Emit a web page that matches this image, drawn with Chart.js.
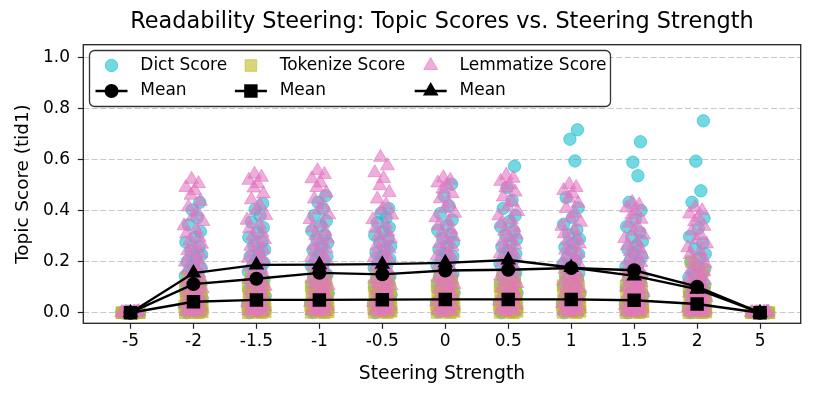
<!DOCTYPE html>
<html><head><meta charset="utf-8">
<script src="https://cdn.jsdelivr.net/npm/chart.js@4/dist/chart.umd.min.js"></script>
<style>html,body{margin:0;padding:0;background:#fff}#wrap{width:815px;height:398px}</style>
</head><body><div id="wrap"><canvas id="c" width="815" height="398"></canvas></div>
<script>
const categories = ['-5','-2','-1.5','-1','-0.5','0','0.5','1','1.5','2','5'];
const yTicks = [0, 0.2, 0.4, 0.6, 0.8, 1.0];

const dictScores = [
 [0.0,0.002,0.0,0.004,0.001,0.0,0.003,0.0,0.006,0.001,0.0,0.002],
 [0.0,0.003,0.008,0.014,0.02,0.027,0.034,0.041,0.048,0.056,0.064,0.072,0.08,0.088,0.097,0.106,0.115,0.124,0.134,0.144,0.154,0.165,0.176,0.188,0.2,0.213,0.227,0.242,0.258,0.276,0.296,0.318,0.344,0.372,0.402,0.432],
 [0.0,0.004,0.01,0.017,0.024,0.032,0.04,0.048,0.056,0.065,0.074,0.083,0.092,0.101,0.11,0.12,0.13,0.14,0.15,0.161,0.172,0.183,0.195,0.207,0.22,0.233,0.247,0.262,0.278,0.295,0.313,0.333,0.355,0.38,0.405,0.428],
 [0.001,0.006,0.013,0.021,0.029,0.038,0.047,0.056,0.066,0.076,0.086,0.096,0.106,0.116,0.127,0.138,0.149,0.16,0.171,0.183,0.195,0.207,0.219,0.232,0.245,0.259,0.273,0.288,0.304,0.321,0.339,0.359,0.381,0.405,0.432,0.458],
 [0.0,0.005,0.012,0.019,0.027,0.035,0.044,0.053,0.062,0.071,0.081,0.091,0.101,0.111,0.121,0.131,0.142,0.153,0.164,0.175,0.186,0.198,0.21,0.222,0.234,0.247,0.26,0.274,0.288,0.303,0.318,0.334,0.352,0.371,0.39,0.408],
 [0.002,0.007,0.014,0.022,0.031,0.04,0.049,0.058,0.068,0.078,0.088,0.098,0.108,0.118,0.129,0.14,0.151,0.162,0.173,0.185,0.197,0.209,0.221,0.234,0.247,0.261,0.275,0.29,0.306,0.323,0.342,0.363,0.388,0.418,0.458,0.503],
 [0.0,0.005,0.012,0.02,0.029,0.038,0.048,0.058,0.068,0.078,0.089,0.1,0.111,0.122,0.133,0.144,0.156,0.168,0.18,0.192,0.204,0.217,0.23,0.243,0.257,0.271,0.286,0.302,0.319,0.337,0.357,0.38,0.408,0.44,0.49,0.573],
 [0.0,0.005,0.011,0.019,0.027,0.036,0.045,0.055,0.065,0.075,0.086,0.097,0.108,0.119,0.13,0.142,0.154,0.166,0.178,0.19,0.203,0.216,0.229,0.243,0.257,0.272,0.288,0.305,0.324,0.346,0.372,0.41,0.45,0.594,0.679,0.716],
 [0.0,0.004,0.01,0.017,0.025,0.033,0.042,0.051,0.06,0.07,0.08,0.09,0.1,0.111,0.122,0.133,0.144,0.156,0.168,0.18,0.193,0.206,0.219,0.233,0.248,0.263,0.279,0.296,0.315,0.337,0.365,0.4,0.432,0.536,0.589,0.669],
 [0.0,0.003,0.007,0.012,0.018,0.024,0.03,0.037,0.044,0.051,0.058,0.066,0.074,0.082,0.09,0.099,0.108,0.117,0.127,0.137,0.148,0.159,0.171,0.184,0.198,0.213,0.23,0.25,0.272,0.298,0.33,0.37,0.432,0.477,0.593,0.751],
 [0.0,0.001,0.0,0.003,0.0,0.002,0.0,0.004,0.001,0.0,0.002,0.0]
];
const tokenizeScores = [
 [0.0,0.0,0.001,0.0,0.002,0.0,0.0,0.003,0.0,0.001,0.0,0.0],
 [0.0,0.0,0.001,0.003,0.005,0.008,0.011,0.014,0.017,0.02,0.023,0.026,0.029,0.033,0.037,0.041,0.045,0.049,0.053,0.058,0.063,0.068,0.074,0.08,0.086,0.093,0.101,0.11,0.121,0.136],
 [0.0,0.0,0.002,0.004,0.006,0.009,0.012,0.015,0.018,0.021,0.024,0.027,0.031,0.035,0.039,0.043,0.047,0.051,0.055,0.06,0.065,0.07,0.076,0.082,0.088,0.095,0.103,0.112,0.124,0.14],
 [0.0,0.001,0.002,0.004,0.007,0.01,0.013,0.016,0.019,0.022,0.025,0.028,0.032,0.036,0.04,0.044,0.048,0.052,0.056,0.061,0.066,0.071,0.077,0.083,0.089,0.096,0.104,0.113,0.125,0.142],
 [0.0,0.001,0.003,0.005,0.007,0.01,0.013,0.016,0.019,0.022,0.025,0.029,0.033,0.037,0.041,0.045,0.049,0.053,0.057,0.062,0.067,0.072,0.078,0.084,0.09,0.097,0.105,0.114,0.127,0.145],
 [0.0,0.001,0.003,0.005,0.008,0.011,0.014,0.017,0.02,0.023,0.026,0.029,0.033,0.037,0.041,0.045,0.049,0.053,0.058,0.063,0.068,0.073,0.079,0.085,0.091,0.098,0.106,0.115,0.128,0.147],
 [0.0,0.001,0.002,0.005,0.007,0.01,0.013,0.016,0.019,0.022,0.026,0.029,0.033,0.037,0.041,0.045,0.049,0.053,0.058,0.063,0.068,0.073,0.079,0.085,0.091,0.098,0.106,0.115,0.128,0.146],
 [0.0,0.001,0.003,0.005,0.008,0.011,0.014,0.017,0.02,0.023,0.026,0.029,0.033,0.037,0.041,0.045,0.049,0.053,0.057,0.062,0.067,0.072,0.078,0.084,0.091,0.098,0.106,0.116,0.13,0.15],
 [0.0,0.0,0.002,0.004,0.006,0.009,0.012,0.015,0.018,0.021,0.024,0.027,0.031,0.034,0.038,0.042,0.046,0.05,0.054,0.059,0.064,0.069,0.075,0.081,0.088,0.096,0.105,0.116,0.128,0.142],
 [0.0,0.0,0.001,0.002,0.004,0.006,0.008,0.01,0.012,0.014,0.016,0.019,0.022,0.025,0.028,0.031,0.034,0.037,0.041,0.045,0.049,0.054,0.06,0.067,0.075,0.085,0.1,0.125,0.165,0.2],
 [0.0,0.0,0.002,0.0,0.001,0.0,0.0,0.002,0.0,0.001,0.0,0.0]
];
const lemmatizeScores = [
 [0.0,0.001,0.0,0.002,0.0,0.004,0.001,0.0,0.002,0.0,0.003,0.0],
 [0.0,0.002,0.006,0.011,0.016,0.022,0.028,0.034,0.041,0.048,0.055,0.062,0.07,0.078,0.086,0.094,0.102,0.111,0.12,0.129,0.138,0.147,0.157,0.167,0.177,0.187,0.198,0.209,0.22,0.231,0.243,0.255,0.268,0.281,0.295,0.309,0.324,0.34,0.357,0.375,0.394,0.414,0.436,0.46,0.478,0.49,0.505,0.522],
 [0.0,0.003,0.007,0.012,0.018,0.024,0.031,0.038,0.045,0.053,0.061,0.069,0.077,0.085,0.094,0.103,0.112,0.121,0.13,0.14,0.15,0.16,0.17,0.18,0.191,0.202,0.213,0.224,0.236,0.248,0.26,0.273,0.286,0.3,0.314,0.329,0.345,0.362,0.38,0.399,0.42,0.442,0.465,0.488,0.505,0.518,0.53,0.542],
 [0.001,0.004,0.009,0.014,0.02,0.026,0.033,0.04,0.047,0.055,0.063,0.071,0.079,0.088,0.097,0.106,0.115,0.124,0.133,0.143,0.153,0.163,0.173,0.183,0.194,0.205,0.216,0.227,0.239,0.251,0.263,0.276,0.289,0.303,0.317,0.332,0.348,0.365,0.383,0.402,0.423,0.445,0.468,0.49,0.508,0.524,0.541,0.556],
 [0.0,0.003,0.008,0.013,0.019,0.025,0.032,0.039,0.046,0.054,0.062,0.07,0.078,0.087,0.096,0.105,0.114,0.123,0.132,0.142,0.152,0.162,0.172,0.182,0.193,0.204,0.215,0.226,0.238,0.25,0.262,0.275,0.288,0.302,0.316,0.331,0.347,0.364,0.382,0.401,0.422,0.445,0.47,0.497,0.525,0.548,0.575,0.608],
 [0.0,0.004,0.009,0.015,0.021,0.028,0.035,0.042,0.05,0.058,0.066,0.074,0.083,0.092,0.101,0.11,0.119,0.128,0.138,0.148,0.158,0.168,0.178,0.189,0.2,0.211,0.222,0.234,0.246,0.258,0.271,0.284,0.297,0.311,0.325,0.34,0.356,0.372,0.389,0.407,0.426,0.446,0.466,0.484,0.497,0.508,0.518,0.528],
 [0.002,0.006,0.011,0.017,0.023,0.03,0.037,0.045,0.053,0.061,0.069,0.078,0.087,0.096,0.105,0.114,0.124,0.134,0.144,0.154,0.164,0.174,0.185,0.196,0.207,0.218,0.23,0.242,0.254,0.266,0.279,0.292,0.305,0.319,0.333,0.348,0.363,0.379,0.396,0.414,0.433,0.453,0.472,0.488,0.501,0.514,0.526,0.538],
 [0.0,0.003,0.007,0.012,0.017,0.023,0.029,0.035,0.042,0.049,0.056,0.064,0.072,0.08,0.088,0.096,0.105,0.114,0.123,0.132,0.141,0.15,0.16,0.17,0.18,0.19,0.2,0.211,0.222,0.233,0.245,0.257,0.269,0.282,0.295,0.309,0.323,0.338,0.354,0.371,0.389,0.408,0.428,0.448,0.465,0.478,0.49,0.502],
 [0.0,0.002,0.005,0.009,0.013,0.018,0.023,0.028,0.034,0.04,0.046,0.052,0.058,0.065,0.072,0.079,0.086,0.093,0.1,0.108,0.116,0.124,0.132,0.14,0.149,0.158,0.167,0.176,0.186,0.196,0.206,0.217,0.228,0.239,0.251,0.263,0.276,0.29,0.304,0.319,0.334,0.35,0.366,0.382,0.397,0.41,0.421,0.432],
 [0.0,0.001,0.003,0.006,0.009,0.012,0.016,0.02,0.024,0.028,0.033,0.038,0.043,0.048,0.053,0.059,0.065,0.071,0.077,0.083,0.09,0.097,0.104,0.111,0.119,0.127,0.135,0.143,0.152,0.161,0.171,0.181,0.192,0.203,0.215,0.227,0.24,0.254,0.269,0.285,0.302,0.32,0.338,0.356,0.372,0.386,0.399,0.412],
 [0.0,0.002,0.0,0.001,0.0,0.003,0.0,0.0,0.002,0.0,0.001,0.0]
];
const jitterDict = [-0.11,0.06,0.13,-0.03,0.09,-0.14,0.01,0.11,-0.07,0.14,-0.05,0.08,-0.12,0.03,0.1,-0.09,0.12,-0.01,0.05,-0.13,0.07,-0.06,0.12,0.0,-0.1,0.04,0.13,-0.04,0.09,-0.12,0.02,0.11,-0.08,0.06,-0.02,0.1];
const jitterTokenize = [0.08,-0.13,0.03,0.14,-0.06,0.1,-0.1,0.01,0.14,-0.04,0.07,-0.14,0.12,-0.08,0.05,-0.11,0.09,-0.02,0.13,-0.08,0.02,0.11,-0.12,0.05,-0.05,0.12,-0.13,0.04,0.1,-0.09];
const jitterLemmatize = [-0.04,0.1,-0.12,0.05,-0.08,0.13,0.0,-0.14,0.07,-0.06,0.12,-0.02,0.09,-0.1,0.04,0.14,-0.07,0.07,-0.12,0.02,0.1,-0.05,0.08,-0.1,0.03,0.12,-0.13,0.06,-0.03,0.11,-0.09,0.01,0.13,-0.06,0.09,-0.11,0.05,-0.15,0.15,-0.01,0.06,-0.08,0.11,-0.04,0.02,-0.12,0.08,-0.03];

const dictMean = [0.0,0.112,0.133,0.156,0.150,0.165,0.168,0.175,0.166,0.102,0.0];
const tokenizeMean = [0.0,0.043,0.050,0.050,0.051,0.052,0.052,0.052,0.049,0.034,0.0];
const lemmatizeMean = [0.0,0.155,0.187,0.188,0.190,0.195,0.206,0.177,0.144,0.092,0.0];

function buildPoints(values, jitter) {
  const pts = [];
  values.forEach((arr, i) => arr.forEach((v, j) => pts.push({x: i + jitter[j % jitter.length], y: v})));
  return pts;
}
function buildMean(m) { return m.map((v, i) => ({x: i, y: v})); }

const CYAN = 'rgba(23,190,207,0.6)', OLIVE = 'rgba(188,189,34,0.6)', PINK = 'rgba(227,119,194,0.6)';
const FONT = '"DejaVu Sans", Verdana, sans-serif';
Chart.defaults.font.family = FONT;
Chart.defaults.color = '#000';

function marker(ctx, style, x, y, r, fill, stroke, lw) {
  ctx.beginPath();
  if (style === 'circle') ctx.arc(x, y, r, 0, Math.PI * 2);
  else if (style === 'rect') { const s = Math.SQRT1_2 * r; ctx.rect(x - s, y - s, 2 * s, 2 * s); }
  else { let a = 0; ctx.moveTo(x + Math.sin(a) * r, y - Math.cos(a) * r);
    a += 2 * Math.PI / 3; ctx.lineTo(x + Math.sin(a) * r, y - Math.cos(a) * r);
    a += 2 * Math.PI / 3; ctx.lineTo(x + Math.sin(a) * r, y - Math.cos(a) * r); ctx.closePath(); }
  ctx.fillStyle = fill; ctx.fill();
  if (stroke) { ctx.lineWidth = lw || 1; ctx.strokeStyle = stroke; ctx.stroke(); }
}

const framePlugin = {
  id: 'frame',
  afterDraw(chart) {
    const {ctx, chartArea: a} = chart;
    ctx.save();
    ctx.lineWidth = 1.3; ctx.strokeStyle = '#222';
    ctx.strokeRect(a.left, a.top, a.right - a.left, a.bottom - a.top);
    ctx.restore();
  }
};

const legendPlugin = {
  id: 'customLegend',
  afterDraw(chart) {
    const ctx = chart.ctx;
    const ds = chart.data.datasets;
    const L = {x: 89.5, y: 50.5, w: 521, h: 56, r: 5};
    ctx.save();
    ctx.beginPath();
    ctx.moveTo(L.x + L.r, L.y);
    ctx.arcTo(L.x + L.w, L.y, L.x + L.w, L.y + L.h, L.r);
    ctx.arcTo(L.x + L.w, L.y + L.h, L.x, L.y + L.h, L.r);
    ctx.arcTo(L.x, L.y + L.h, L.x, L.y, L.r);
    ctx.arcTo(L.x, L.y, L.x + L.w, L.y, L.r);
    ctx.closePath();
    ctx.fillStyle = 'rgba(255,255,255,0.9)'; ctx.fill();
    ctx.lineWidth = 1.3; ctx.strokeStyle = '#333'; ctx.stroke();
    const cols = [{hx: 95.5, tx: 140.3}, {hx: 234.9, tx: 279.7}, {hx: 414.7, tx: 459.5}];
    const rows = [65.5, 91];
    const hl = 32;
    ctx.font = '17px ' + FONT; ctx.textBaseline = 'middle'; ctx.textAlign = 'left'; ctx.fillStyle = '#000';
    for (let i = 0; i < 3; i++) {
      const s = ds[i], m = ds[3 + i], c = cols[i];
      const cx = c.hx + hl / 2;
      marker(ctx, s.pointStyle, cx, rows[0], s.pointRadius, s.backgroundColor, s.borderColor, 1);
      ctx.fillStyle = '#000'; ctx.fillText(s.label, c.tx, rows[0]);
      ctx.beginPath(); ctx.moveTo(c.hx, rows[1]); ctx.lineTo(c.hx + hl, rows[1]);
      ctx.lineWidth = m.borderWidth; ctx.strokeStyle = '#000'; ctx.stroke();
      marker(ctx, m.pointStyle, cx, rows[1], m.pointRadius, '#000', null);
      ctx.fillStyle = '#000'; ctx.fillText(m.label, c.tx, rows[1]);
    }
    ctx.restore();
  }
};

new Chart(document.getElementById('c'), {
  type: 'scatter',
  data: {
    datasets: [
      {label: 'Dict Score', data: buildPoints(dictScores, jitterDict), pointStyle: 'circle', pointRadius: 6.2,
       backgroundColor: CYAN, borderColor: CYAN, borderWidth: 1, order: 6},
      {label: 'Tokenize Score', data: buildPoints(tokenizeScores, jitterTokenize), pointStyle: 'rect', pointRadius: 8.2,
       backgroundColor: OLIVE, borderColor: OLIVE, borderWidth: 1, order: 5},
      {label: 'Lemmatize Score', data: buildPoints(lemmatizeScores, jitterLemmatize), pointStyle: 'triangle', pointRadius: 8,
       backgroundColor: PINK, borderColor: PINK, borderWidth: 1, order: 4},
      {label: 'Mean', data: buildMean(dictMean), showLine: true, borderColor: '#000', borderWidth: 2.4,
       pointStyle: 'circle', pointRadius: 7, pointBackgroundColor: '#000', pointBorderColor: '#000', pointBorderWidth: 0, order: 2},
      {label: 'Mean', data: buildMean(tokenizeMean), showLine: true, borderColor: '#000', borderWidth: 2.4,
       pointStyle: 'rect', pointRadius: 9.5, pointBackgroundColor: '#000', pointBorderColor: '#000', pointBorderWidth: 0, order: 1},
      {label: 'Mean', data: buildMean(lemmatizeMean), showLine: true, borderColor: '#000', borderWidth: 2.4,
       pointStyle: 'triangle', pointRadius: 9, pointBackgroundColor: '#000', pointBorderColor: '#000', pointBorderWidth: 0, order: 0}
    ]
  },
  options: {
    responsive: false, animation: false, devicePixelRatio: 1, events: [],
    layout: {padding: {left: 0, right: 14.3, top: 0, bottom: 0}},
    plugins: {
      legend: {display: false}, tooltip: {enabled: false},
      title: {display: true, fullSize: false, text: 'Readability Steering: Topic Scores vs. Steering Strength',
        font: {size: 22.4, weight: 'normal', family: FONT}, color: '#000', padding: {top: 9, bottom: 8.8}}
    },
    scales: {
      x: {
        type: 'linear', min: -0.75, max: 10.646,
        afterBuildTicks: s => { s.ticks = categories.map((_, i) => ({value: i})); },
        afterFit: s => { s.height = 74.7; },
        ticks: {callback: v => categories[v] !== undefined ? categories[v] : '', autoSkip: false, maxRotation: 0,
          font: {size: 17}, color: '#000', padding: 3},
        grid: {drawOnChartArea: false, drawTicks: true, tickLength: 5.5, tickColor: '#222', tickWidth: 1.2},
        border: {display: false},
        title: {display: true, text: 'Steering Strength', font: {size: 18.8}, color: '#000', padding: {top: 0, bottom: 13}}
      },
      y: {
        type: 'linear', min: -0.0415, max: 1.049,
        afterBuildTicks: s => { s.ticks = yTicks.map(v => ({value: v})); },
        afterFit: s => { s.width = 83.3; },
        ticks: {callback: v => Number(v).toFixed(1), font: {size: 17}, color: '#000', padding: 7.8},
        grid: {color: '#c8c8c8', lineWidth: 1, drawTicks: true, tickLength: 5.5, tickColor: '#222', tickWidth: 1.2, tickBorderDash: []},
        border: {display: false, dash: [6, 2.6]},
        title: {display: true, text: 'Topic Score (tid1)', font: {size: 18.4}, color: '#000', padding: {top: 12, bottom: 0}}
      }
    }
  },
  plugins: [framePlugin, legendPlugin]
});
</script></body></html>
